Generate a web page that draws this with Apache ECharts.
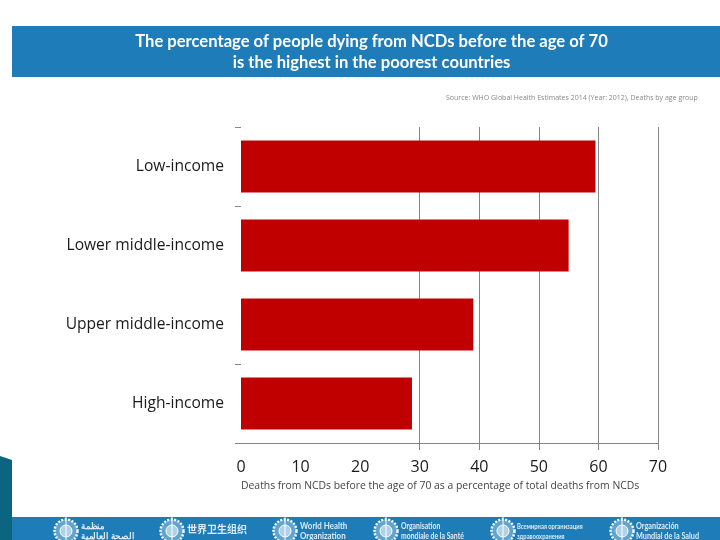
<!DOCTYPE html>
<html>
<head>
<meta charset="utf-8">
<style>html,body{margin:0;padding:0;background:#fff}#c{width:720px;height:540px}</style>
<script src="https://cdn.jsdelivr.net/npm/echarts@6/dist/echarts.min.js"></script>
</head>
<body>
<div id="c"></div>
<script>
const categories = ['Low-income', 'Lower middle-income', 'Upper middle-income', 'High-income'];
const values = [59.5, 55, 39, 28.7];
const axisTicks = [0, 10, 20, 30, 40, 50, 60, 70];
const gridValues = [30, 40, 50, 60, 70];
const titleLines = ['The percentage of people dying from NCDs before the age of 70', 'is the highest in the poorest countries'];
const sourceText = 'Source: WHO Global Health Estimates 2014 (Year: 2012), Deaths by age group';
const axisName = 'Deaths from NCDs before the age of 70 as a percentage of total deaths from NCDs';
const footerItems = [
  {lines: ['منظمة', 'الصحة العالمية'], logo: 66, text: 81, squeeze: 0.95, size: 9},
  {lines: ['世界卫生组织'], logo: 172, text: 187, squeeze: 1, size: 10},
  {lines: ['World Health', 'Organization'], logo: 285, text: 300, squeeze: 0.88, size: 9},
  {lines: ['Organisation', 'mondiale de la Santé'], logo: 386, text: 401, squeeze: 0.76, size: 9},
  {lines: ['Всемирная организация', 'здравоохранения'], logo: 503, text: 517, squeeze: 0.73, size: 8},
  {lines: ['Organización', 'Mundial de la Salud'], logo: 622, text: 636, squeeze: 0.81, size: 9}
];

const BLUE = '#1e7db8';
const UI = '"Open Sans", sans-serif';
const graphics = [
  {type: 'rect', shape: {x: 12, y: 26, width: 708, height: 51}, style: {fill: BLUE}, silent: true},
  {type: 'rect', shape: {x: 12, y: 517, width: 708, height: 23}, style: {fill: BLUE}, silent: true},
  {type: 'polygon', shape: {points: [[0, 456], [12, 460], [12, 540], [0, 540]]}, style: {fill: '#0b6480'}, silent: true},
  {type: 'text', x: 371.5, y: 41.5, style: {text: titleLines[0], fill: '#fff', font: 'bold 16.6px Lato, sans-serif', align: 'center', verticalAlign: 'middle'}, silent: true},
  {type: 'text', x: 371.5, y: 62.5, style: {text: titleLines[1], fill: '#fff', font: 'bold 16.6px Lato, sans-serif', align: 'center', verticalAlign: 'middle'}, silent: true},
  {type: 'text', x: 446, y: 97.5, style: {text: sourceText, fill: '#888', font: '7px "Open Sans", sans-serif', align: 'left', verticalAlign: 'middle'}, silent: true},
  {type: 'text', x: 241, y: 486, style: {text: axisName, fill: '#444', font: '10.4px "Open Sans", sans-serif', align: 'left', verticalAlign: 'middle'}, silent: true}
];
footerItems.forEach(function (it) {
  const cy = 531;
  graphics.push(
    {type: 'circle', shape: {cx: it.logo, cy: cy, r: 11.5}, style: {fill: 'rgba(255,255,255,0.3)', stroke: '#f2f7fb', lineWidth: 2.5, lineDash: [2, 1.5]}, silent: true},
    {type: 'circle', shape: {cx: it.logo, cy: cy, r: 6}, style: {fill: 'rgba(255,255,255,0.5)', stroke: '#ffffff', lineWidth: 1}, silent: true},
    {type: 'line', shape: {x1: it.logo, y1: cy - 15, x2: it.logo, y2: cy + 9}, style: {stroke: '#ffffff', lineWidth: 1}, silent: true}
  );
  it.lines.forEach(function (l, i) {
    const y = it.lines.length === 1 ? 529 : 526 + i * 10;
    const family = it.lines.length === 1 ? '"Noto Sans CJK SC"' : 'Lato, "Noto Sans", sans-serif';
    graphics.push({type: 'text', x: it.text, y: y, scaleX: it.squeeze, style: {text: l, fill: '#dcebf5', font: 'bold ' + it.size + 'px ' + family, align: 'left', verticalAlign: 'middle'}, silent: true});
  });
});

const chart = echarts.init(document.getElementById('c'), null, {renderer: 'canvas'});
chart.setOption({
  animation: false,
  backgroundColor: '#fff',
  grid: {left: 241, right: 62, top: 127, bottom: 97, containLabel: false},
  xAxis: {
    type: 'value', min: 0, max: 70, interval: 10,
    axisLine: {show: true, lineStyle: {color: '#868686', width: 1}},
    axisTick: {show: true, length: 7, inside: false, customValues: gridValues, lineStyle: {color: '#868686', width: 1}},
    axisLabel: {show: true, margin: 16, color: '#1a1a1a', fontSize: 16, fontFamily: UI, customValues: axisTicks},
    splitLine: {show: false}
  },
  yAxis: {
    type: 'category', inverse: true, data: categories,
    axisLine: {show: false},
    axisTick: {show: true, length: 6, interval: function (i) { return i !== 2; }, lineStyle: {color: '#868686', width: 1}},
    axisLabel: {margin: 17, padding: [2, 0, 0, 0], color: '#1a1a1a', fontSize: 15.6, fontFamily: UI}
  },
  series: [{
    type: 'bar', z: 3, data: values, barWidth: 52,
    itemStyle: {color: '#c00000'},
    silent: true,
    markLine: {
      silent: true, z: 1, symbol: 'none', animation: false,
      label: {show: false},
      lineStyle: {color: '#868686', width: 1, type: 'solid'},
      data: gridValues.map(function (v) { return {xAxis: v}; })
    }
  }],
  graphic: graphics
});
</script>
</body>
</html>
